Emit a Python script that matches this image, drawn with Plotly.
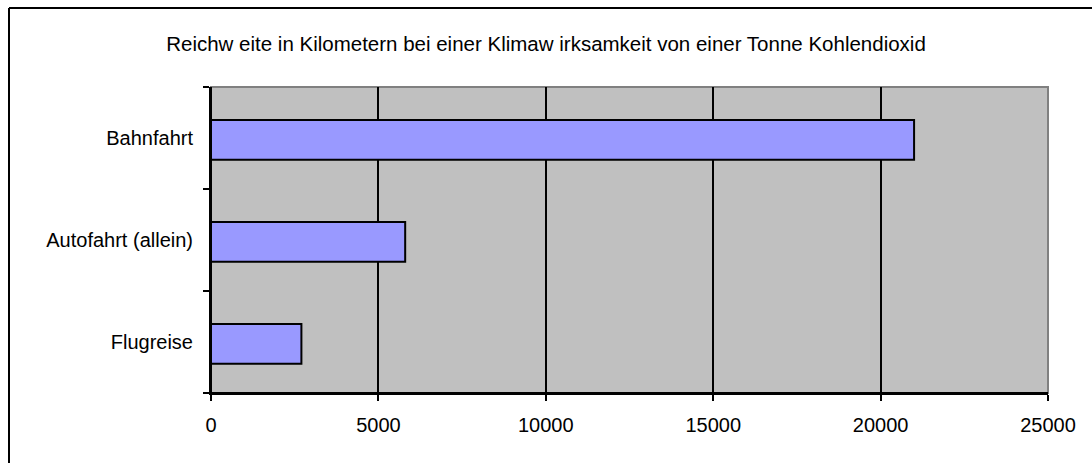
import plotly.graph_objects as go

categories = ["Flugreise", "Autofahrt (allein)", "Bahnfahrt"]
values = [2700, 5800, 21000]
x_ticks = [0, 5000, 10000, 15000, 20000, 25000]
title_text = "Reichw eite in Kilometern bei einer Klimaw irksamkeit von einer Tonne Kohlendioxid"

W, H = 1092, 463
L, R, T, B = 211, 1048, 87, 393

fig = go.Figure()
fig.add_trace(go.Bar(
    y=categories, x=values, orientation="h",
    marker=dict(color="#9999FF", line=dict(color="black", width=2)),
    width=0.39, offset=-0.213,
))

font = "Liberation Sans, Arial, sans-serif"
fig.update_layout(
    width=W, height=H,
    margin=dict(l=L, r=W - R, t=T, b=H - B, pad=0),
    paper_bgcolor="white",
    plot_bgcolor="#C0C0C0",
    showlegend=False,
    font=dict(family=font, color="black", size=20),
    title=dict(text=title_text, x=546 / W, xref="container", xanchor="center",
               y=1 - 44 / H, yref="container", yanchor="middle",
               font=dict(size=20.5, family=font, color="black")),
    xaxis=dict(range=[0, 25000], tickvals=x_ticks, ticktext=[str(v) for v in x_ticks],
               showgrid=True, gridcolor="black", gridwidth=2,
               showline=True, linecolor="black", linewidth=2,
               ticks="outside", ticklen=6, tickwidth=2, tickcolor="black",
               zeroline=False, tickfont=dict(size=20), ticklabelstandoff=7),
    yaxis=dict(categoryorder="array", categoryarray=categories,
               showgrid=False, showline=True, linecolor="black", linewidth=2,
               ticks="outside", ticklen=6, tickwidth=2, tickcolor="black",
               tickson="boundaries", tickfont=dict(size=20), ticklabelstandoff=12),
    shapes=[
        dict(type="rect", xref="paper", yref="paper", x0=0, x1=1, y0=0, y1=1,
             line=dict(color="#808080", width=2), fillcolor="rgba(0,0,0,0)", layer="between"),
        dict(type="line", xref="paper", yref="paper", x0=0, x1=0, y0=0, y1=1,
             line=dict(color="black", width=2), layer="between"),
        dict(type="line", xref="paper", yref="paper", x0=0, x1=1, y0=0, y1=0,
             line=dict(color="black", width=2), layer="between"),
        dict(type="line", xref="paper", yref="paper",
             x0=(9 - L) / (R - L), x1=(9 - L) / (R - L), y0=-3, y1=(B - 8) / (B - T),
             line=dict(color="black", width=2), layer="above"),
        dict(type="line", xref="paper", yref="paper",
             x0=(9 - L) / (R - L), x1=3, y0=(B - 8) / (B - T), y1=(B - 8) / (B - T),
             line=dict(color="black", width=2), layer="above"),
    ],
)

fig.write_html(
    "out.html",
    config={"displayModeBar": False},
    post_script="document.body.style.margin='0';document.body.style.overflow='hidden';",
)
